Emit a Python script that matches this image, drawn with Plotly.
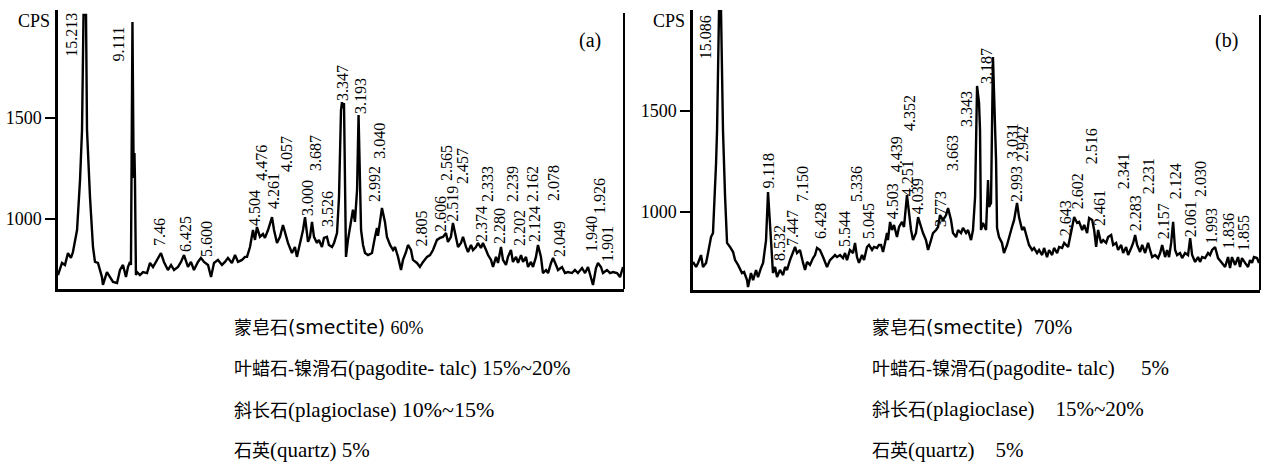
import plotly.graph_objects as go

# ---------------- data: panel (a) ----------------
tth_a = [3.72,4.04,4.28,4.52,4.76,4.92,5.25,5.49,5.65,5.77,
         5.97,6.05,6.29,6.53,6.69,6.93,7.25,7.33,7.65,7.90,
         8.14,8.46,8.70,8.94,9.18,9.34,9.50,9.58,9.70,9.78,
         9.82,9.86,9.90,9.98,10.06,10.30,10.55,10.87,11.11,11.35,
         11.67,11.99,12.23,12.55,12.80,13.04,13.36,13.60,13.84,14.16,
         14.40,14.64,14.96,15.20,15.45,15.77,16.01,16.25,16.57,16.89,
         17.13,17.37,17.69,17.94,18.18,18.50,18.74,18.90,19.14,19.38,
         19.54,19.70,19.94,20.18,20.34,20.59,20.91,21.07,21.31,21.55,
         21.79,22.03,22.19,22.51,22.75,22.91,23.16,23.40,23.56,23.80,
         23.96,24.12,24.28,24.52,24.68,24.92,25.08,25.32,25.48,25.73,
         25.89,26.13,26.29,26.45,26.53,26.61,26.69,26.77,26.85,27.01,
         27.25,27.41,27.57,27.74,27.86,27.98,28.06,28.22,28.38,28.62,
         28.94,29.18,29.34,29.42,29.58,29.74,29.98,30.14,30.39,30.63,
         30.79,31.03,31.27,31.43,31.67,31.83,32.07,32.23,32.55,32.79,
         33.04,33.36,33.60,33.84,34.16,34.40,34.64,34.88,35.04,35.28,
         35.44,35.69,35.85,36.09,36.25,36.49,36.65,36.89,37.05,37.29,
         37.45,37.69,37.85,38.10,38.26,38.50,38.66,38.90,39.06,39.30,
         39.46,39.70,39.86,40.10,40.26,40.51,40.67,40.91,41.07,41.31,
         41.47,41.71,41.87,42.11,42.27,42.51,42.67,42.92,43.08,43.32,
         43.48,43.72,43.88,44.20,44.44,44.68,45.00,45.24,45.48,45.81,
         46.05,46.29,46.53,46.69,46.93,47.09,47.33,47.49,47.81,48.06,
         48.30,48.62,48.86,49.10]
cps_a = [723,783,773,832,808,837,946,1194,1441,2010,
         2010,1441,1109,862,788,783,713,674,738,713,
         689,684,748,773,713,763,788,773,1976,1342,
         1204,1327,1204,723,738,723,738,733,783,763,
         798,832,788,748,773,748,763,788,822,763,
         788,748,788,808,788,773,713,783,798,773,
         788,808,783,822,788,798,813,813,862,946,
         897,961,912,926,907,946,1010,946,882,912,
         971,912,882,832,862,813,882,946,1010,887,
         912,986,912,882,897,862,907,912,872,862,
         882,931,1109,1540,1579,1550,1575,1218,813,897,
         981,1046,986,1144,1515,1194,946,872,832,822,
         832,912,956,917,996,1055,986,912,872,847,
         862,813,748,798,837,872,847,798,783,763,
         788,813,822,847,897,907,912,931,887,912,
         981,912,862,882,912,862,837,872,847,862,
         882,857,882,847,822,798,763,813,783,862,
         798,773,813,847,788,813,783,822,788,813,
         763,788,763,813,872,813,733,748,733,783,
         808,773,748,763,733,738,733,748,733,758,
         733,763,709,674,758,783,763,733,748,733,
         738,733,713,763]

lab_a = ['15.213','9.111','7.46','6.425','5.600','4.504','4.476','4.261','4.057','3.000',
         '3.687','3.526','3.347','3.193','3.040','2.992','2.805','2.606','2.565','2.519',
         '2.457','2.374','2.333','2.280','2.239','2.202','2.162','2.124','2.078','2.049',
         '1.940','1.926','1.901']
lab_a_x = [4.84,8.54,11.91,13.92,15.69,19.54,20.10,20.99,22.03,23.72,
           24.36,25.41,26.61,27.98,29.58,29.18,32.99,34.40,34.96,35.44,
           36.25,37.78,38.26,39.22,40.26,40.83,41.87,42.03,43.56,44.04,
           46.53,47.17,47.90]
lab_a_y = [1798,1773,862,832,808,961,1184,1045,1228,1010,
           1233,956,1580,1515,1293,1080,862,931,1184,981,
           1169,882,1080,872,1080,862,1080,882,1085,808,
           832,1020,783]

# ---------------- data: panel (b) ----------------
tth_b = [3.66,3.91,4.07,4.31,4.47,4.72,4.88,5.12,5.28,5.36,
         5.53,5.61,5.77,5.93,6.09,6.26,6.42,6.66,6.91,7.07,
         7.31,7.63,7.80,8.04,8.12,8.36,8.53,8.77,8.93,9.17,
         9.34,9.58,9.74,9.98,10.14,10.31,10.47,10.71,10.96,11.12,
         11.28,11.52,11.77,11.93,12.09,12.33,12.58,12.74,12.90,13.14,
         13.39,13.55,13.71,13.95,14.20,14.36,14.52,14.76,15.01,15.17,
         15.33,15.58,15.82,15.98,16.14,16.38,16.63,16.79,16.95,17.11,
         17.36,17.52,17.76,17.92,18.17,18.33,18.57,18.73,18.90,19.06,
         19.22,19.38,19.46,19.63,19.79,19.95,20.19,20.36,20.60,20.76,
         21.00,21.17,21.33,21.49,21.73,21.90,22.14,22.30,22.54,22.71,
         22.95,23.11,23.36,23.52,23.68,23.92,24.17,24.33,24.57,24.73,
         24.98,25.14,25.38,25.54,25.79,25.95,26.19,26.35,26.52,26.68,
         26.84,26.92,27.00,27.16,27.41,27.57,27.65,27.81,27.97,28.22,
         28.30,28.46,28.70,28.86,29.11,29.27,29.51,29.68,29.92,30.08,
         30.33,30.49,30.73,30.89,31.14,31.30,31.54,31.71,31.95,32.11,
         32.35,32.52,32.76,32.92,33.17,33.33,33.57,33.74,34.06,34.22,
         34.38,34.55,34.79,34.95,35.20,35.36,35.60,35.76,36.01,36.17,
         36.33,36.49,36.73,36.90,37.14,37.30,37.55,37.71,37.95,38.11,
         38.36,38.52,38.76,38.92,39.17,39.33,39.49,39.65,39.89,40.06,
         40.30,40.54,40.70,40.87,41.11,41.35,41.52,41.68,41.92,42.08,
         42.24,42.41,42.57,42.73,42.89,43.13,43.30,43.54,43.78,43.95,
         44.11,44.35,44.59,44.75,44.92,45.16,45.40,45.56,45.73,45.97,
         46.21,46.37,46.53,46.78,47.02,47.18,47.34,47.59,47.83,47.99,
         48.15,48.40,48.64,48.80,48.96,49.12,49.37,49.53]
cps_b = [753,728,748,787,728,748,797,876,896,995,
         1243,1406,2000,2000,1406,1074,847,827,802,762,
         738,698,703,663,629,698,663,713,678,723,
         748,861,1099,861,698,728,678,713,688,728,
         713,762,797,827,797,812,748,713,753,738,
         772,787,822,812,777,753,728,762,777,787,
         777,787,772,797,762,812,797,847,777,748,
         787,762,827,837,812,827,822,837,837,802,
         847,896,861,951,911,936,876,926,951,926,
         1084,975,911,861,896,975,926,896,861,812,
         861,896,911,926,985,960,985,1020,960,896,
         876,911,896,921,896,911,861,911,1074,1624,
         1540,1406,911,946,911,1158,1025,1045,1767,1257,
         921,876,847,797,837,876,926,960,1045,975,
         911,926,876,837,812,822,797,812,787,822,
         777,812,787,822,797,827,822,847,827,876,
         911,975,946,951,911,936,896,970,960,911,
         827,911,847,861,847,876,886,837,847,812,
         837,797,827,787,822,847,886,837,802,837,
         797,847,812,777,787,772,797,837,777,812,
         777,847,951,812,787,797,772,797,787,871,
         787,753,777,753,777,772,797,787,812,827,
         772,762,748,728,777,723,777,738,777,728,
         772,748,728,762,748,777,772,748]

lab_b = ['15.086','9.118','8.532','7.447','7.150','6.428','5.544','5.336','5.045','4.503',
         '4.439','4.352','4.251','4.039','3.773','3.663','3.343','3.187','3.031','2.942',
         '2.993','2.643','2.602','2.516','2.461','2.341','2.283','2.231','2.157','2.124',
         '2.061','2.030','1.993','1.836','1.855']
lab_b_x = [4.64,9.74,10.71,11.77,12.58,13.95,15.98,16.95,17.84,19.79,
           20.12,21.17,21.01,21.82,23.76,24.65,25.86,27.48,29.51,30.40,
           29.92,33.82,34.79,36.01,36.65,38.52,39.49,40.54,41.76,42.73,
           43.95,44.75,45.73,47.02,48.23]
lab_b_y = [1752,1109,753,827,1045,861,822,1045,861,960,
           1193,1396,1074,985,921,1198,1416,1629,1257,1243,
           1045,876,1010,1233,926,1109,901,1084,861,1059,
           871,1069,837,812,802]

yticks = [1000, 1500]


def cjk(s):
    return '<span style="font-size:18px">' + s + '</span>'


SANS = '<span style="font-family:DejaVu Sans;font-size:19px">'
NB = '\u00a0'
comp_a = [cjk('蒙皂石') + SANS + '(smectite)</span> <span style="font-size:18px">60%</span>',
          cjk('叶蜡石-镍滑石') + '(pagodite- talc) 15%~20%',
          cjk('斜长石') + '(plagioclase) <span style="font-size:22px">10%~15%</span>',
          cjk('石英') + '(quartz) 5%']
comp_b = [cjk('蒙皂石') + SANS + '(smectite)</span>' + NB + ' 70%',
          cjk('叶蜡石-镍滑石') + '(pagodite- talc)' + NB * 4 + ' 5%',
          cjk('斜长石') + '(plagioclase)' + NB * 3 + ' 15%~20%',
          cjk('石英') + '(quartz)' + NB * 3 + ' 5%']

SERIF = 'Liberation Serif, Times New Roman, Noto Sans CJK SC'
W, H = 1271, 465

fig = go.Figure()
fig.add_trace(go.Scatter(x=tth_a, y=cps_a, mode='lines', xaxis='x', yaxis='y',
                         line=dict(color='black', width=2.4), hoverinfo='skip'))
fig.add_trace(go.Scatter(x=tth_b, y=cps_b, mode='lines', xaxis='x2', yaxis='y2',
                         line=dict(color='black', width=2.4), hoverinfo='skip'))

ax_common = dict(showgrid=False, zeroline=False, showline=True, linecolor='black',
                 linewidth=2.5)
fig.update_layout(
    width=W, height=H, margin=dict(l=0, r=0, t=0, b=0, autoexpand=False),
    paper_bgcolor='white', plot_bgcolor='white', showlegend=False,
    xaxis=dict(domain=[58 / W, 624 / W], range=[3.72, 49.18], showticklabels=False,
               ticks='', anchor='y', **ax_common),
    yaxis=dict(domain=[1 - 289 / H, 1 - 10 / H], range=[654, 2035], tickvals=yticks,
               ticks='outside', ticklen=10, tickwidth=2, tickcolor='black',
               tickfont=dict(family=SERIF, size=18, color='black'), anchor='x',
               **ax_common),
    xaxis2=dict(domain=[693 / W, 1260 / W], range=[3.66, 49.61], showticklabels=False,
                ticks='', anchor='y2', **ax_common),
    yaxis2=dict(domain=[1 - 290 / H, 1 - 10 / H], range=[614, 2000], tickvals=yticks,
                ticks='outside', ticklen=10, tickwidth=2, tickcolor='black',
                tickfont=dict(family=SERIF, size=18, color='black'), anchor='x2',
                **ax_common),
)

# right border lines
fig.add_shape(type='line', xref='x domain', yref='y domain', x0=1, x1=1, y0=0, y1=0.989,
              line=dict(color='black', width=2))
fig.add_shape(type='line', xref='x2 domain', yref='y2 domain', x0=1, x1=1, y0=0, y1=0.982,
              line=dict(color='black', width=2))

ann = []
for t, x, y in zip(lab_a, lab_a_x, lab_a_y):
    ann.append(dict(text=t, x=x, y=y, xref='x', yref='y', showarrow=False, textangle=-90,
                    xanchor='center', yanchor='bottom', borderpad=0,
                    font=dict(family=SERIF, size=16, color='black')))
for t, x, y in zip(lab_b, lab_b_x, lab_b_y):
    ann.append(dict(text=t, x=x, y=y, xref='x2', yref='y2', showarrow=False, textangle=-90,
                    xanchor='center', yanchor='bottom', borderpad=0,
                    font=dict(family=SERIF, size=16, color='black')))

for xr in (52, 687):
    ann.append(dict(text='CPS', x=xr / W, y=1 - 21 / H, xref='paper', yref='paper',
                    xanchor='right', yanchor='middle', showarrow=False,
                    font=dict(family=SERIF, size=18, color='black')))
ann.append(dict(text='(a)', x=590 / W, y=1 - 40 / H, xref='paper', yref='paper',
                xanchor='center', yanchor='middle', showarrow=False,
                font=dict(family=SERIF, size=20, color='black')))
ann.append(dict(text='(b)', x=1226 / W, y=1 - 40 / H, xref='paper', yref='paper',
                xanchor='center', yanchor='middle', showarrow=False,
                font=dict(family=SERIF, size=20, color='black')))

line_y = [327, 368, 409, 450]
for lines, x0 in ((comp_a, 232), (comp_b, 870)):
    for t, yy in zip(lines, line_y):
        ann.append(dict(text=t, x=x0 / W, y=1 - yy / H, xref='paper', yref='paper',
                        xanchor='left', yanchor='middle', showarrow=False,
                        font=dict(family=SERIF, size=21, color='black')))

fig.update_layout(annotations=ann)
fig.write_html('out.html', config={'displayModeBar': False},
               post_script="document.body.style.margin='0';document.body.style.padding='0';"
                           "document.body.style.overflow='hidden';")
